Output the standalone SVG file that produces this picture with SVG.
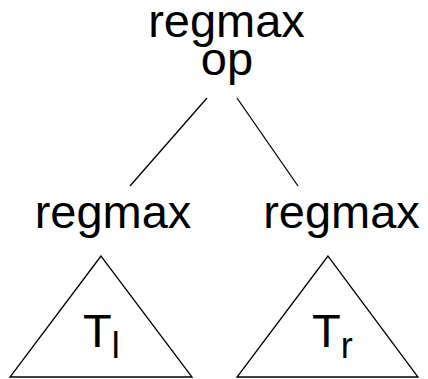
<svg xmlns="http://www.w3.org/2000/svg" width="428" height="379" viewBox="0 0 428 379">
  <style>
    .lbl { font-family: "Liberation Sans", Arial, sans-serif; font-size: 47px; fill: #000; }
    .sub { font-size: 36px; }
    .edge { stroke: #000; stroke-width: 1.3; fill: none; }
    .tri { stroke: #000; stroke-width: 1.3; fill: #fff; stroke-linejoin: miter; }
  </style>
  <rect width="428" height="379" fill="#fff"/>
  <g id="connectors">
    <line class="edge" x1="207" y1="98" x2="130" y2="186"/>
    <line class="edge" x1="237" y1="98" x2="298" y2="186"/>
  </g>
  <g id="root">
    <text class="lbl" x="226.5" y="37" text-anchor="middle">regmax</text>
    <text class="lbl" x="227" y="75" text-anchor="middle">op</text>
  </g>
  <g id="left">
    <text class="lbl" x="113" y="228" text-anchor="middle">regmax</text>
  </g>
  <g id="right">
    <text class="lbl" x="341.5" y="228" text-anchor="middle">regmax</text>
  </g>
  <g id="tree-left">
    <polygon class="tri" points="101,256 10,377 192,377"/>
    <text class="lbl" x="83" y="347">T<tspan class="sub" y="358">l</tspan></text>
  </g>
  <g id="tree-right">
    <polygon class="tri" points="328,256 237,377 418,377"/>
    <text class="lbl" x="312" y="347">T<tspan class="sub" y="358">r</tspan></text>
  </g>
</svg>
